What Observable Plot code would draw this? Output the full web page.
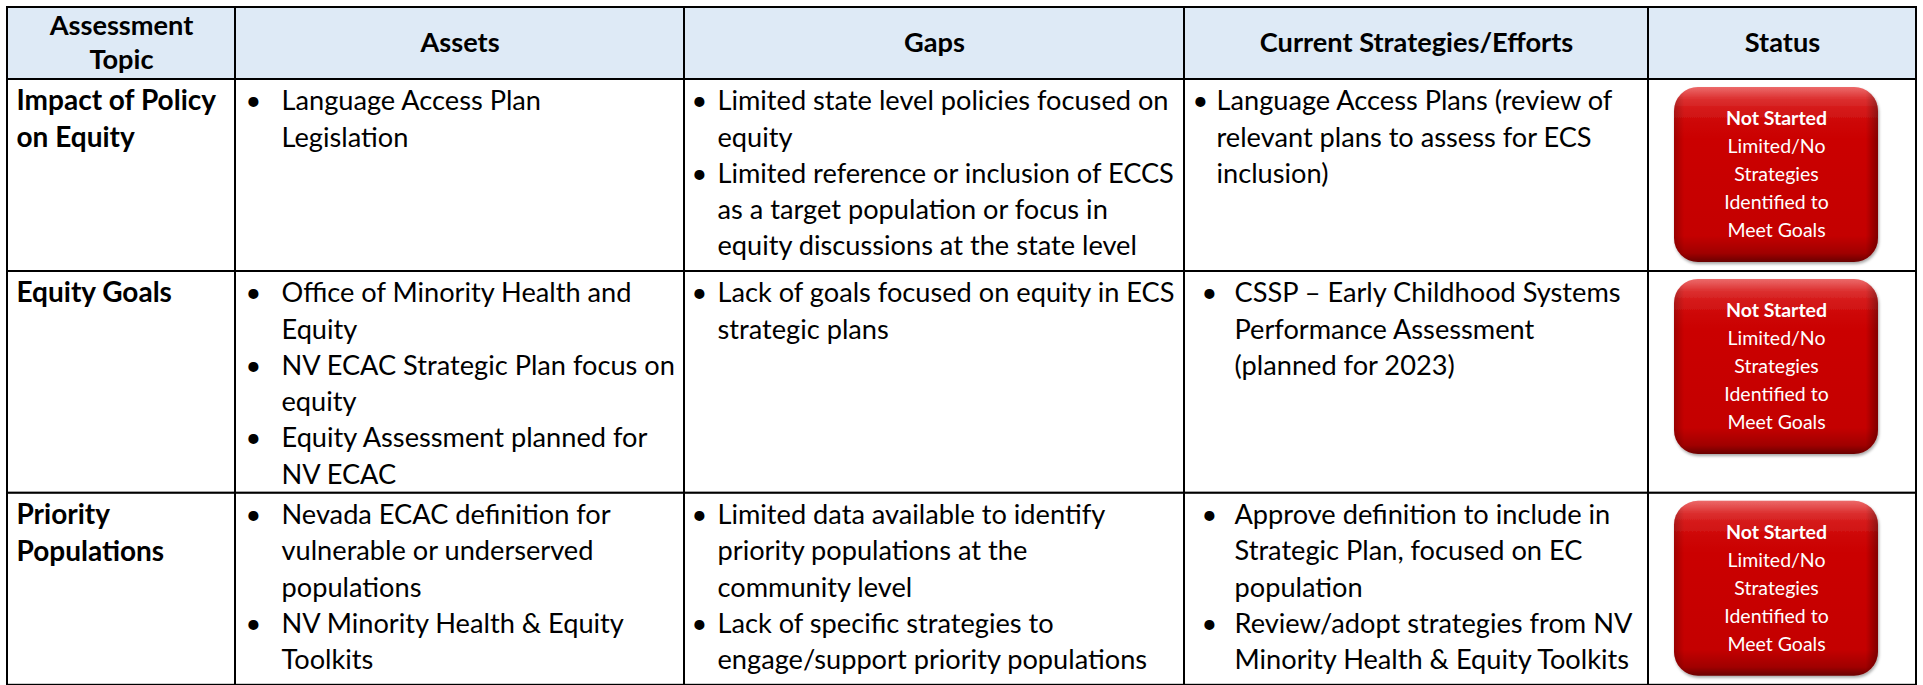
<!DOCTYPE html>
<html><head><meta charset="utf-8">
<script src="https://cdn.jsdelivr.net/npm/d3@7"></script>
<script src="https://cdn.jsdelivr.net/npm/@observablehq/plot@0.6"></script>
<style>body{margin:0;background:#fff;} svg{display:block;}</style>
</head><body><div id="chart"></div>
<script>
// ---- DATA ----
const headers = ["Assessment\nTopic", "Assets", "Gaps", "Current Strategies/Efforts", "Status"];
const topics = ["Impact of Policy\non Equity", "Equity Goals", "Priority\nPopulations"];
const assets = [
  ["Language Access Plan\nLegislation"],
  ["Office of Minority Health and\nEquity", "NV ECAC Strategic Plan focus on\nequity", "Equity Assessment planned for\nNV ECAC"],
  ["Nevada ECAC definition for\nvulnerable or underserved\npopulations", "NV Minority Health & Equity\nToolkits"]
];
const gaps = [
  ["Limited state level policies focused on\nequity", "Limited reference or inclusion of ECCS\nas a target population or focus in\nequity discussions at the state level"],
  ["Lack of goals focused on equity in ECS\nstrategic plans"],
  ["Limited data available to identify\npriority populations at the\ncommunity level", "Lack of specific strategies to\nengage/support priority populations"]
];
const strategies = [
  ["Language Access Plans (review of\nrelevant plans to assess for ECS\ninclusion)"],
  ["CSSP \u2013 Early Childhood Systems\nPerformance Assessment\n(planned for 2023)"],
  ["Approve definition to include in\nStrategic Plan, focused on EC\npopulation", "Review/adopt strategies from NV\nMinority Health & Equity Toolkits"]
];
const statusTitle = ["Not Started", "Not Started", "Not Started"];
const statusText = ["Limited/No\nStrategies\nIdentified to\nMeet Goals", "Limited/No\nStrategies\nIdentified to\nMeet Goals", "Limited/No\nStrategies\nIdentified to\nMeet Goals"];

// ---- LAYOUT ----
const W = 1923, H = 685;
const colEdges = [7, 235, 684, 1184, 1648, 1916];
const headerTop = 7, headerBottom = 79;
const lineH = 36.3, firstLine = 22;
const boxH = 175, boxTop = 9, boxLeft = 26, boxW = 204;
const FONT = "Lato, 'Open Sans', sans-serif";
const bodySize = 27.2, topicSize = 28, boxSize = 19.5;
const bulletOff = {1: [18, 18, 18], 2: [15, 15, 15], 3: [16, 25, 25]};
const textOff = {1: [46, 46, 46], 2: [33, 33, 33], 3: [32, 50, 50]};

const bodyCols = [assets, gaps, strategies];
const nLines = items => items.reduce((s, t) => s + t.split("\n").length, 0);
const rowTops = [];
{
  let y = headerBottom;
  for (let r = 0; r < topics.length; r++) {
    rowTops.push(y);
    const lines = Math.max(topics[r].split("\n").length, ...bodyCols.map(c => nLines(c[r])));
    y += Math.max(lines * lineH + 4, boxH + 2 * boxTop - 1);
  }
  rowTops.push(y);
}

// cells
const cells = [];
for (let c = 0; c < 5; c++) {
  cells.push({x1: colEdges[c], x2: colEdges[c + 1], y1: headerTop, y2: headerBottom, fill: "#DEEAF6"});
  for (let r = 0; r < topics.length; r++)
    cells.push({x1: colEdges[c], x2: colEdges[c + 1], y1: rowTops[r], y2: rowTops[r + 1], fill: "white"});
}

// header text
const headerText = [];
headers.forEach((h, c) => {
  const parts = h.split("\n");
  const mid = (headerTop + headerBottom) / 2;
  parts.forEach((p, i) => headerText.push({
    text: p, x: (colEdges[c] + colEdges[c + 1]) / 2,
    y: mid + (i - (parts.length - 1) / 2) * 34
  }));
});

// topics
const topicText = [];
topics.forEach((t, r) => t.split("\n").forEach((p, i) =>
  topicText.push({text: p, x: colEdges[0] + 9, y: rowTops[r] + firstLine + i * lineH})));

// bullets & body lines
const bullets = [], bodyText = [];
bodyCols.forEach((col, ci) => {
  const c = ci + 1;
  col.forEach((items, r) => {
    let li = 0;
    items.forEach(item => {
      bullets.push({x: colEdges[c] + bulletOff[c][r], y: rowTops[r] + firstLine + li * lineH});
      item.split("\n").forEach(p => {
        bodyText.push({text: p, x: colEdges[c] + textOff[c][r], y: rowTops[r] + firstLine + li * lineH});
        li++;
      });
    });
  });
});

// status boxes
const boxes = statusTitle.map((t, r) => ({
  x1: colEdges[4] + boxLeft, x2: colEdges[4] + boxLeft + boxW,
  y1: rowTops[r] + boxTop - 1, y2: rowTops[r] + boxTop - 1 + boxH
}));
const boxTitle = [], boxLines = [];
statusTitle.forEach((t, r) => {
  const cx = (boxes[r].x1 + boxes[r].x2) / 2;
  const lines = [t, ...statusText[r].split("\n")];
  const cy = (boxes[r].y1 + boxes[r].y2) / 2;
  lines.forEach((p, i) => {
    const d = {text: p, x: cx, y: cy + (i - (lines.length - 1) / 2) * 28};
    (i === 0 ? boxTitle : boxLines).push(d);
  });
});

const plot = Plot.plot({
  width: W, height: H, margin: 0,
  x: {type: "linear", domain: [0, W], range: [0, W], axis: null},
  y: {type: "linear", domain: [0, H], range: [0, H], axis: null},
  style: {fontFamily: FONT, background: "white"},
  marks: [
    Plot.rect(cells, {x1: "x1", x2: "x2", y1: "y1", y2: "y2", fill: "fill", stroke: "black", strokeWidth: 2}),
    Plot.rect(boxes, {x1: "x1", x2: "x2", y1: "y1", y2: "y2", rx: 24, fill: "url(#btnV)"}),
    Plot.rect(boxes, {x1: "x1", x2: "x2", y1: "y1", y2: "y2", rx: 24, fill: "url(#btnH)"}),
    Plot.rect(boxes, {x1: "x1", x2: "x2", y1: "y1", y2: "y2", rx: 24, fill: "url(#btnHi)"}),
    Plot.text(headerText, {x: "x", y: "y", text: "text", fontSize: bodySize, fontWeight: "bold", fill: "#000", fontFamily: FONT}),
    Plot.text(topicText, {x: "x", y: "y", text: "text", textAnchor: "start", fontSize: topicSize, fontWeight: "bold", fill: "#000", fontFamily: FONT}),
    Plot.text(bullets, {x: "x", y: "y", text: () => "\u2022", fontSize: bodySize, fill: "#000", fontFamily: FONT}),
    Plot.text(bodyText, {x: "x", y: "y", text: "text", textAnchor: "start", fontSize: bodySize, fill: "#000", fontFamily: FONT}),
    Plot.text(boxTitle, {x: "x", y: "y", text: "text", fontSize: boxSize, fontWeight: "bold", fill: "white", fontFamily: FONT}),
    Plot.text(boxLines, {x: "x", y: "y", text: "text", fontSize: boxSize, fill: "white", fontFamily: FONT})
  ]
});

d3.select(plot).insert("defs", ":first-child").html(`
  <linearGradient id="btnV" x1="0" y1="0" x2="0" y2="1">
    <stop offset="0" stop-color="#e84848"/>
    <stop offset="0.07" stop-color="#d81818"/>
    <stop offset="0.2" stop-color="#cc0202"/>
    <stop offset="0.85" stop-color="#c40000"/>
    <stop offset="0.95" stop-color="#a00000"/>
    <stop offset="1" stop-color="#6a0000"/>
  </linearGradient>
  <linearGradient id="btnH" x1="0" y1="0" x2="1" y2="0">
    <stop offset="0" stop-color="#000" stop-opacity="0.22"/>
    <stop offset="0.05" stop-color="#000" stop-opacity="0"/>
    <stop offset="0.94" stop-color="#000" stop-opacity="0"/>
    <stop offset="1" stop-color="#000" stop-opacity="0.35"/>
  </linearGradient>
  <linearGradient id="btnHi" x1="0" y1="0" x2="0" y2="1">
    <stop offset="0" stop-color="#fff" stop-opacity="0.18"/>
    <stop offset="0.12" stop-color="#fff" stop-opacity="0.05"/>
    <stop offset="0.3" stop-color="#fff" stop-opacity="0"/>
  </linearGradient>
  <filter id="btnShadow" x="-10%" y="-10%" width="120%" height="120%">
    <feDropShadow dx="1" dy="2" stdDeviation="1.5" flood-color="#000" flood-opacity="0.35"/>
  </filter>`);
d3.select(plot).selectAll('g[fill="url(#btnV)"]').attr("filter", "url(#btnShadow)");

document.getElementById("chart").appendChild(plot);
</script>
</body></html>
